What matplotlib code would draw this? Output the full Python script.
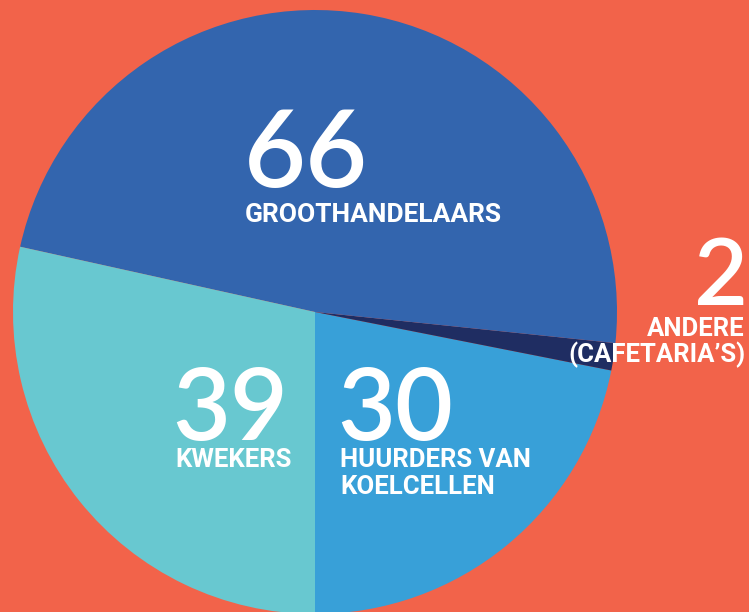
import matplotlib
matplotlib.use("Agg")
import matplotlib.pyplot as plt

# Data (counter-clockwise from the bottom)
categories = ["HUURDERS VAN\nKOELCELLEN", "ANDERE\n(CAFETARIA’S)", "GROOTHANDELAARS", "KWEKERS"]
values = [30, 2, 66, 39]
colors = ["#38A0D8", "#1F2D62", "#3365AE", "#68C8D0"]
bg = "#F2634A"

W, H = 749, 612
fig = plt.figure(figsize=(W / 100, H / 100), dpi=100, facecolor=bg)
ax = fig.add_axes([0, 0, 1, 1])
ax.set_facecolor(bg)

cx, cy, r = 315, H - 312, 302
ax.pie(values, colors=colors, startangle=270, counterclock=True,
       center=(cx, cy), radius=r, frame=True,
       wedgeprops=dict(linewidth=0))
ax.set_xlim(0, W)
ax.set_ylim(0, H)
ax.set_aspect("equal")
ax.axis("off")

num_kw = dict(color="white", family=["Lato", "DejaVu Sans"], weight="semibold", va="baseline")
lab_kw = dict(color="white", family=["Roboto", "DejaVu Sans"], weight="bold", va="baseline")

# 66 GROOTHANDELAARS
ax.text(244, H - 187, str(values[2]), fontsize=77, ha="left", **num_kw)
ax.text(245, H - 222, categories[2], fontsize=19, ha="left", **lab_kw)
# 2 ANDERE
ax.text(748, H - 305, str(values[1]), fontsize=67, ha="right", **num_kw)
ax.text(745, H - 336, "ANDERE", fontsize=18.5, ha="right", **lab_kw)
ax.text(745, H - 362, "(CAFETARIA’S)", fontsize=18.5, ha="right", **lab_kw)
# 39 KWEKERS
ax.text(172, H - 440, str(values[3]), fontsize=72, ha="left", **num_kw)
ax.text(175, H - 467, "KWEKERS", fontsize=18.5, ha="left", **lab_kw)
# 30 HUURDERS VAN KOELCELLEN
ax.text(337, H - 440, str(values[0]), fontsize=72, ha="left", **num_kw)
ax.text(340, H - 467, "HUURDERS VAN", fontsize=18.5, ha="left", **lab_kw)
ax.text(340, H - 494, "KOELCELLEN", fontsize=18.5, ha="left", **lab_kw)

fig.savefig("out.png", dpi=100, facecolor=bg)
